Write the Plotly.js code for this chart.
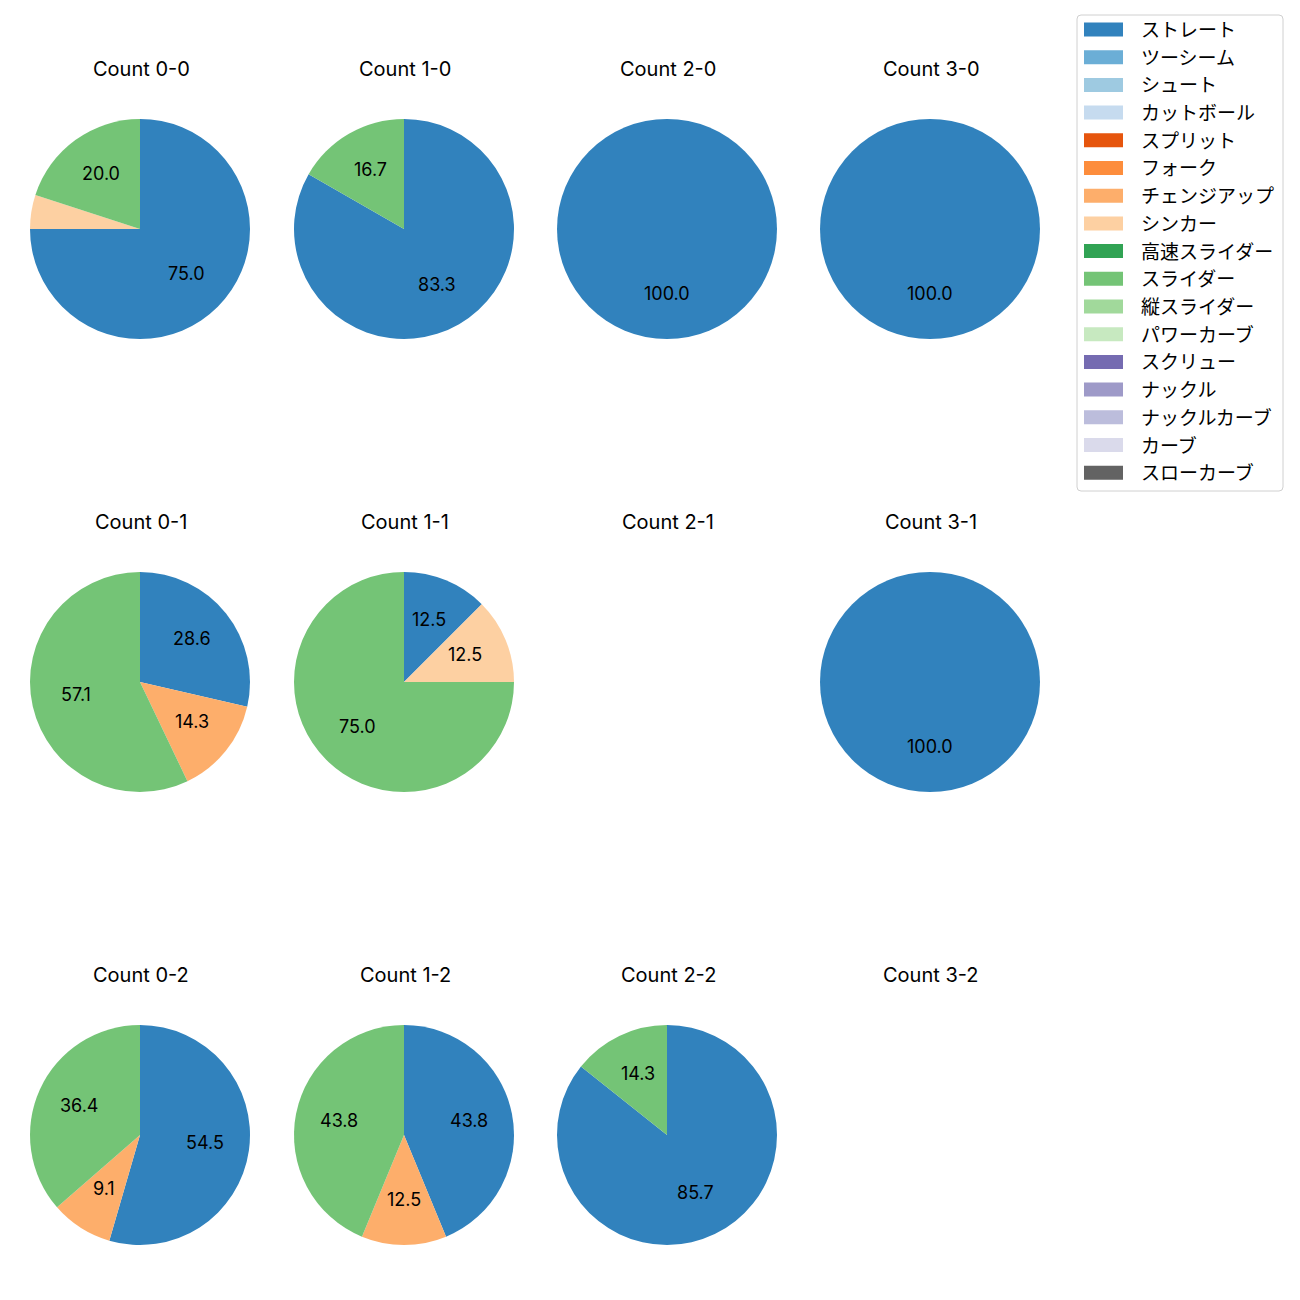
<!DOCTYPE html>
<html>
<head>
<meta charset="utf-8">
<script src="https://cdn.plot.ly/plotly-3.0.1.min.js"></script>
<style>html,body{margin:0;padding:0;background:#fff;}</style>
</head>
<body>
<div id="chart" style="width:1300px;height:1300px;"></div>
<script>
// ---- data ----
const countNames = ['0-0','1-0','2-0','3-0','0-1','1-1','2-1','3-1','0-2','1-2','2-2','3-2'];
const pitchTypes = ['ストレート','ツーシーム','シュート','カットボール','スプリット','フォーク','チェンジアップ','シンカー','高速スライダー','スライダー','縦スライダー','パワーカーブ','スクリュー','ナックル','ナックルカーブ','カーブ','スローカーブ'];
const pitchColors = ['#3182bd','#6baed6','#9ecae1','#c6dbef','#e6550d','#fd8d3c','#fdae6b','#fdd0a2','#31a354','#74c476','#a1d99b','#c7e9c0','#756bb1','#9e9ac8','#bcbddc','#dadaeb','#636363'];

const labels00 = ['ストレート','シンカー','スライダー'];      const values00 = [75.0, 5.0, 20.0];
const labels10 = ['ストレート','スライダー'];                const values10 = [83.3, 16.7];
const labels20 = ['ストレート'];                             const values20 = [100.0];
const labels30 = ['ストレート'];                             const values30 = [100.0];
const labels01 = ['ストレート','チェンジアップ','スライダー']; const values01 = [28.6, 14.3, 57.1];
const labels11 = ['ストレート','シンカー','スライダー'];      const values11 = [12.5, 12.5, 75.0];
const labels21 = [];                                        const values21 = [];
const labels31 = ['ストレート'];                             const values31 = [100.0];
const labels02 = ['ストレート','チェンジアップ','スライダー']; const values02 = [54.5, 9.1, 36.4];
const labels12 = ['ストレート','チェンジアップ','スライダー']; const values12 = [43.8, 12.5, 43.8];
const labels22 = ['ストレート','スライダー'];                const values22 = [85.7, 14.3];
const labels32 = [];                                        const values32 = [];

const allLabels = [labels00,labels10,labels20,labels30,labels01,labels11,labels21,labels31,labels02,labels12,labels22,labels32];
const allValues = [values00,values10,values20,values30,values01,values11,values21,values31,values02,values12,values22,values32];

// ---- layout geometry (pixels) ----
const W = 1300, H = 1300;
const colX = [140, 404, 667, 930];
const rowY = [229, 682, 1135];
const R = 110;
const titleOffset = 160;
const FONT = 'Inter, "Noto Sans CJK JP", sans-serif';
const LEGFONT = '"Noto Sans CJK JP", Inter, sans-serif';
const minPct = 5;

const px = x => x / W;
const py = y => 1 - y / H;
const colorOf = l => pitchColors[pitchTypes.indexOf(l)];

const traces = [];
const annotations = [];
const shapes = [];

countNames.forEach((name, i) => {
  const cx = colX[i % 4], cy = rowY[Math.floor(i / 4)];
  annotations.push({
    xref: 'paper', yref: 'paper', x: px(cx + 1), y: py(cy - titleOffset),
    text: 'Count ' + name, showarrow: false, xanchor: 'center', yanchor: 'middle',
    font: {family: FONT, size: 20, color: '#000'}
  });
  const labs = allLabels[i], vals = allValues[i];
  if (!labs.length) return;
  traces.push({
    type: 'pie', labels: labs, values: vals, sort: false, direction: 'clockwise', rotation: 0,
    marker: {colors: labs.map(colorOf), line: {width: 0}},
    textinfo: 'none', showlegend: false, hoverinfo: 'label+percent',
    domain: {x: [px(cx - R), px(cx + R)], y: [py(cy + R), py(cy - R)]}
  });
  const total = vals.reduce((a, b) => a + b, 0);
  let cum = 0;
  vals.forEach(v => {
    const mid = (cum + v / 2) / total;
    cum += v;
    const pct = v / total * 100;
    if (pct <= minPct) return;
    const th = 2 * Math.PI * mid;
    const tx = cx + 0.6 * R * Math.sin(th);
    const ty = cy - 0.6 * R * Math.cos(th);
    annotations.push({
      xref: 'paper', yref: 'paper', x: px(tx), y: py(ty - 2),
      text: pct.toFixed(1), showarrow: false, xanchor: 'center', yanchor: 'middle',
      font: {family: FONT, size: 18, color: '#000'}
    });
  });
});

// ---- legend (drawn manually, matplotlib-style) ----
const lgX0 = 1077, lgX1 = 1283, lgY0 = 15, lgY1 = 491, rr = 4;
shapes.push({
  type: 'path', xref: 'paper', yref: 'paper',
  path: `M ${px(lgX0+rr)} ${py(lgY0)} L ${px(lgX1-rr)} ${py(lgY0)} Q ${px(lgX1)} ${py(lgY0)} ${px(lgX1)} ${py(lgY0+rr)} ` +
        `L ${px(lgX1)} ${py(lgY1-rr)} Q ${px(lgX1)} ${py(lgY1)} ${px(lgX1-rr)} ${py(lgY1)} ` +
        `L ${px(lgX0+rr)} ${py(lgY1)} Q ${px(lgX0)} ${py(lgY1)} ${px(lgX0)} ${py(lgY1-rr)} ` +
        `L ${px(lgX0)} ${py(lgY0+rr)} Q ${px(lgX0)} ${py(lgY0)} ${px(lgX0+rr)} ${py(lgY0)} Z`,
  line: {color: '#d0d0d0', width: 1}, fillcolor: 'rgba(255,255,255,0.8)', layer: 'below'
});
const rowStart = 29.5, rowStep = 27.7;
pitchTypes.forEach((t, k) => {
  const yc = rowStart + rowStep * k;
  shapes.push({
    type: 'rect', xref: 'paper', yref: 'paper',
    x0: px(1084), x1: px(1123), y0: py(yc + 7), y1: py(yc - 7),
    fillcolor: pitchColors[k], line: {width: 0}
  });
  annotations.push({
    xref: 'paper', yref: 'paper', x: px(1139), y: py(yc - 1),
    text: t, showarrow: false, xanchor: 'left', yanchor: 'middle',
    font: {family: LEGFONT, size: 19, color: '#000'}
  });
});

const layout = {
  width: W, height: H, margin: {l: 0, r: 0, t: 0, b: 0},
  paper_bgcolor: '#fff', plot_bgcolor: '#fff',
  showlegend: false, annotations: annotations, shapes: shapes,
  font: {family: FONT}
};
Plotly.newPlot('chart', traces, layout, {displayModeBar: false, staticPlot: true});
</script>
</body>
</html>
